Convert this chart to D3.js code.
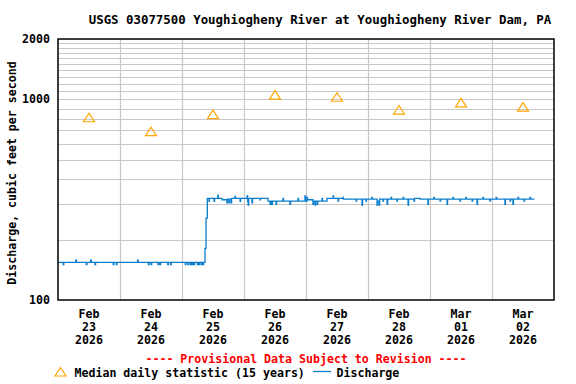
<!DOCTYPE html>
<html>
<head>
<meta charset="utf-8">
<script src="https://cdn.jsdelivr.net/npm/d3@7"></script>
<style>
  html, body { margin: 0; padding: 0; background: #fff; }
  svg { display: block; }
  text { font-family: "DejaVu Sans Mono", "Liberation Mono", monospace; font-weight: bold; }
</style>
</head>
<body>
<svg id="chart" width="576" height="384"></svg>
<script>
// ---------------- DATA ----------------
const titleText = "USGS 03077500 Youghiogheny River at Youghiogheny River Dam, PA";
const yAxisTitle = "Discharge, cubic feet per second";
const provisionalText = "---- Provisional Data Subject to Revision ----";
const startDate = "2026-02-23T00:00:00";
const endDate = "2026-03-03T00:00:00";

const tickDays = ["2026-02-23", "2026-02-24", "2026-02-25", "2026-02-26", "2026-02-27", "2026-02-28", "2026-03-01", "2026-03-02"];
const tickMonths = ["Feb", "Feb", "Feb", "Feb", "Feb", "Feb", "Mar", "Mar"];
const tickDayNums = ["23", "24", "25", "26", "27", "28", "01", "02"];
const tickYears = ["2026", "2026", "2026", "2026", "2026", "2026", "2026", "2026"];

const yTickValues = [2000, 1000, 100];
const yTickLabels = ["2000", "1000", "100"];
const yGridValues = [200, 300, 400, 500, 600, 700, 800, 900, 1000, 1100, 1200, 1300, 1400, 1500, 1600, 1700, 1800, 1900];

// median daily statistic (15 years), at noon of each day
const medianDays = ["2026-02-23", "2026-02-24", "2026-02-25", "2026-02-26", "2026-02-27", "2026-02-28", "2026-03-01", "2026-03-02"];
const medianValues = [810, 690, 840, 1050, 1025, 885, 960, 915];

// discharge: hours after start, value (step series)
const dischargeHours = [
  0, 2.0, 2.25, 6.9, 7.15, 10.95, 11.2, 12.65, 12.9, 14.3, 14.55, 21.4, 21.65, 22.6, 22.85,
  30.8, 31.05, 35.0, 35.25, 36.0, 36.25, 38.7, 38.95, 39.5, 39.75, 42.5, 42.75, 43.6, 43.85,
  49.3, 49.55, 50.3, 50.55, 51.2, 51.45, 51.9, 52.15, 52.6, 52.85, 53.9, 54.15, 54.6, 54.85,
  55.5, 55.75, 56.1, 56.35, 56.9, 57.3, 57.8,
  58.45, 58.6, 60.4, 60.6, 61.9, 62.1, 63.5, 65.4, 65.6, 66.2, 66.4, 67.0, 67.2, 68.5, 68.7,
  70.5, 70.7, 73.2, 73.4, 73.6, 73.8, 75.1, 75.3, 78.2, 78.4,
  81.3, 82.1, 82.3, 82.8, 83.0, 84.4, 84.6, 87.1, 87.3, 89.8, 90.0, 92.9, 93.1, 95.6, 95.8,
  96.4, 96.6, 98.7, 98.9, 99.5, 99.7, 100.3, 100.5, 102.2, 102.4, 104.1, 106.5, 106.7,
  108.4, 108.6, 110.3, 110.5,
  113.0, 115.4, 115.6, 117.7, 117.9, 119.2, 119.4, 121.5, 121.7, 123.5, 123.7, 124.3, 124.5,
  125.8, 126.0, 127.4, 127.6, 128.9, 129.1, 131.2, 131.4, 133.6, 133.8, 135.5, 135.7,
  137.8, 138.0, 140.1, 143.2, 143.4, 145.5, 145.7, 147.9, 148.1, 150.6, 150.8, 152.9, 153.1,
  155.6, 155.8, 157.9, 158.1, 160.3, 160.5, 162.2, 162.4, 164.5, 164.7, 167.2, 167.4,
  169.6, 169.8, 173.0, 173.2, 175.0, 175.2, 176.1, 176.3, 178.1, 178.3, 180.4, 180.6,
  182.7, 182.9, 184.4
];
const dischargeValues = [
  154, 150, 154, 158, 154, 150, 154, 158, 154, 150, 154, 150, 154, 150, 154,
  158, 154, 150, 154, 150, 154, 150, 154, 150, 154, 150, 154, 150, 154,
  150, 154, 150, 154, 150, 154, 150, 154, 150, 154, 150, 154, 150, 154,
  150, 154, 150, 154, 181, 256, 321,
  310, 321, 310, 321, 333, 321, 316, 305, 318, 305, 318, 305, 321, 328, 321,
  310, 321, 330, 310, 297, 321, 305, 321, 316, 321,
  311, 300, 311, 300, 311, 300, 311, 321, 311, 300, 311, 321, 311, 330, 311,
  325, 316, 300, 311, 297, 311, 300, 311, 321, 311, 321, 330, 321,
  311, 321, 325, 318,
  318, 311, 318, 297, 318, 311, 318, 325, 318, 297, 311, 297, 318,
  311, 318, 300, 318, 325, 318, 311, 318, 325, 318, 297, 318,
  311, 321, 318, 300, 318, 325, 318, 311, 318, 300, 318, 325, 318,
  311, 318, 325, 318, 311, 318, 300, 318, 325, 318, 311, 318,
  325, 318, 300, 318, 311, 318, 300, 318, 325, 318, 311, 318,
  325, 318, 318
];

// ---------------- CHART ----------------
const svg = d3.select("#chart");
const mLeft = 58, mRight = 554, mTop = 39, mBottom = 300;
const parse = d3.timeParse("%Y-%m-%dT%H:%M:%S");
const t0 = parse(startDate), t1 = parse(endDate);

const x = d3.scaleTime().domain([t0, t1]).range([mLeft, mRight]);
const y = d3.scaleLog().domain([100, 2000]).range([mBottom, mTop]);

const gridColor = "#c8c8c8";
const fontSize = 11.6;

// horizontal gridlines
svg.append("g").selectAll("line").data(yGridValues).join("line")
  .attr("x1", mLeft).attr("x2", mRight)
  .attr("y1", d => Math.round(y(d)) + 0.5).attr("y2", d => Math.round(y(d)) + 0.5)
  .attr("stroke", gridColor).attr("stroke-width", 1.2);

// vertical gridlines at midnight
const midnights = d3.timeDay.range(d3.timeDay.offset(t0, 1), t1);
svg.append("g").selectAll("line").data(midnights).join("line")
  .attr("x1", d => Math.round(x(d)) + 0.5).attr("x2", d => Math.round(x(d)) + 0.5)
  .attr("y1", mTop).attr("y2", mBottom)
  .attr("stroke", gridColor).attr("stroke-width", 1.2);

// discharge line
const dischargeData = dischargeHours.map((h, i) => ({ t: d3.timeMinute.offset(t0, Math.round(h * 60)), v: dischargeValues[i] }));
svg.append("path")
  .datum(dischargeData)
  .attr("fill", "none")
  .attr("stroke", "#0a7dcc")
  .attr("stroke-width", 1.3)
  .attr("d", d3.line().x(d => x(d.t)).y(d => y(d.v)).curve(d3.curveStepAfter));

// median triangles
const triPath = "M0,-4.5 L5.5,4 L-5.5,4 Z";
const medData = medianDays.map((d, i) => ({ t: d3.timeHour.offset(parse(d + "T00:00:00"), 12), v: medianValues[i] }));
svg.append("g").selectAll("path").data(medData).join("path")
  .attr("d", triPath)
  .attr("transform", d => `translate(${x(d.t)},${y(d.v)})`)
  .attr("fill", "none").attr("stroke", "#ffa500").attr("stroke-width", 1.2);

// plot border
svg.append("rect")
  .attr("x", mLeft).attr("y", mTop).attr("width", mRight - mLeft).attr("height", mBottom - mTop)
  .attr("fill", "none").attr("stroke", "#000").attr("stroke-width", 1.5);

// y tick labels
svg.append("g").selectAll("text").data(yTickValues).join("text")
  .attr("x", 50).attr("y", d => y(d) + 4)
  .attr("text-anchor", "end").attr("font-size", fontSize)
  .text((d, i) => yTickLabels[i]);

// x tick labels
const xt = svg.append("g").selectAll("g").data(tickDays).join("g")
  .attr("transform", d => `translate(${x(d3.timeHour.offset(parse(d + "T00:00:00"), 12))},0)`);
xt.append("text").attr("y", 318).attr("text-anchor", "middle").attr("font-size", fontSize).text((d, i) => tickMonths[i]);
xt.append("text").attr("y", 331).attr("text-anchor", "middle").attr("font-size", fontSize).text((d, i) => tickDayNums[i]);
xt.append("text").attr("y", 344).attr("text-anchor", "middle").attr("font-size", fontSize).text((d, i) => tickYears[i]);

// title
svg.append("text").attr("x", 320).attr("y", 24).attr("text-anchor", "middle")
  .attr("font-size", 12.4).text(titleText);

// y axis title
svg.append("text")
  .attr("transform", "translate(15.5,173) rotate(-90)")
  .attr("text-anchor", "middle").attr("font-size", fontSize)
  .text(yAxisTitle);

// provisional note
svg.append("text").attr("x", 306).attr("y", 363).attr("text-anchor", "middle")
  .attr("font-size", fontSize).attr("fill", "#ff0000").text(provisionalText);

// legend
svg.append("path").attr("d", triPath).attr("transform", "translate(60.5,372)")
  .attr("fill", "none").attr("stroke", "#ffa500").attr("stroke-width", 1.2);
svg.append("text").attr("x", 74.5).attr("y", 377).attr("font-size", fontSize)
  .text("Median daily statistic (15 years)");
svg.append("line").attr("x1", 313).attr("x2", 331).attr("y1", 371.5).attr("y2", 371.5)
  .attr("stroke", "#0a7dcc").attr("stroke-width", 1.3);
svg.append("text").attr("x", 336.5).attr("y", 377).attr("font-size", fontSize).text("Discharge");
</script>
</body>
</html>
